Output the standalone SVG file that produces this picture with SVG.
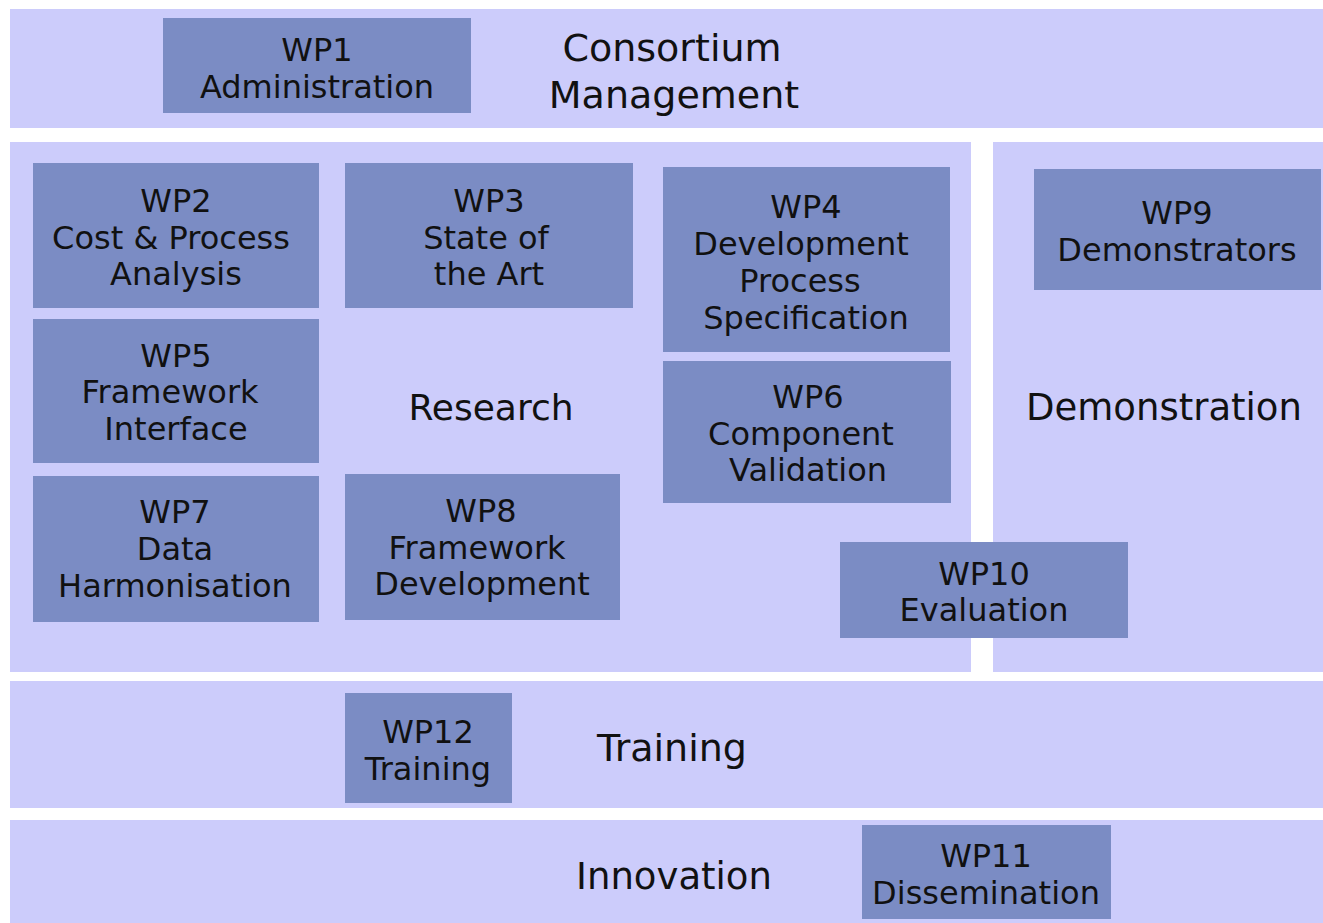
<svg xmlns="http://www.w3.org/2000/svg" width="1323" height="923" viewBox="0 0 1323 923">
<style>
.band{fill:#ccccfb}
.box{fill:#7b8cc4}
.t{font-family:"DejaVu Sans","Liberation Sans",sans-serif;font-size:32px;fill:#111;text-anchor:middle}
.big{font-family:"DejaVu Sans","Liberation Sans",sans-serif;font-size:37px;fill:#111;text-anchor:middle}
</style>
<rect width="1323" height="923" fill="#ffffff"/>
<g id="bands">
<rect class="band" x="10" y="9" width="1313" height="119"/>
<rect class="band" x="10" y="142" width="961" height="530"/>
<rect class="band" x="993" y="142" width="330" height="530"/>
<rect class="band" x="10" y="681" width="1313" height="127"/>
<rect class="band" x="10" y="820" width="1313" height="103"/>
</g>
<g id="band-labels">
<text class="big" x="672" y="61" style="font-size:38px">Consortium</text>
<text class="big" x="674" y="108" style="font-size:38px">Management</text>
<text class="big" x="491" y="420" style="font-size:36px">Research</text>
<text class="big" x="1164" y="420">Demonstration</text>
<text class="big" x="672" y="761" style="font-size:38px">Training</text>
<text class="big" x="674" y="889">Innovation</text>
</g>
<g id="wp1"><rect class="box" x="163" y="18" width="308" height="95"/>
<text class="t" x="317" y="61">WP1</text><text class="t" x="317" y="98">Administration</text></g>
<g id="wp2"><rect class="box" x="33" y="163" width="286" height="145"/>
<text class="t" x="176" y="212">WP2</text><text class="t" x="171" y="249">Cost &amp; Process</text><text class="t" x="176" y="285">Analysis</text></g>
<g id="wp3"><rect class="box" x="345" y="163" width="288" height="145"/>
<text class="t" x="489" y="212">WP3</text><text class="t" x="486" y="249">State of</text><text class="t" x="489" y="285">the Art</text></g>
<g id="wp4"><rect class="box" x="663" y="167" width="287" height="185"/>
<text class="t" x="806" y="218">WP4</text><text class="t" x="801" y="255">Development</text><text class="t" x="800" y="292">Process</text><text class="t" x="806" y="329">Specification</text></g>
<g id="wp5"><rect class="box" x="33" y="319" width="286" height="144"/>
<text class="t" x="176" y="367">WP5</text><text class="t" x="170" y="403">Framework</text><text class="t" x="176" y="440">Interface</text></g>
<g id="wp6"><rect class="box" x="663" y="361" width="288" height="142"/>
<text class="t" x="808" y="408">WP6</text><text class="t" x="801" y="445">Component</text><text class="t" x="808" y="481">Validation</text></g>
<g id="wp7"><rect class="box" x="33" y="476" width="286" height="146"/>
<text class="t" x="175" y="523">WP7</text><text class="t" x="175" y="560">Data</text><text class="t" x="175" y="597">Harmonisation</text></g>
<g id="wp8"><rect class="box" x="345" y="474" width="275" height="146"/>
<text class="t" x="481" y="522">WP8</text><text class="t" x="477" y="559">Framework</text><text class="t" x="482" y="595">Development</text></g>
<g id="wp9"><rect class="box" x="1034" y="169" width="287" height="121"/>
<text class="t" x="1177" y="224">WP9</text><text class="t" x="1177" y="261">Demonstrators</text></g>
<g id="wp10"><rect class="box" x="840" y="542" width="288" height="96"/>
<text class="t" x="984" y="585">WP10</text><text class="t" x="984" y="621">Evaluation</text></g>
<g id="wp12"><rect class="box" x="345" y="693" width="167" height="110"/>
<text class="t" x="428" y="743">WP12</text><text class="t" x="428" y="780">Training</text></g>
<g id="wp11"><rect class="box" x="862" y="825" width="249" height="94"/>
<text class="t" x="986" y="867">WP11</text><text class="t" x="986" y="904">Dissemination</text></g>
<g id="connectors"></g>
</svg>
